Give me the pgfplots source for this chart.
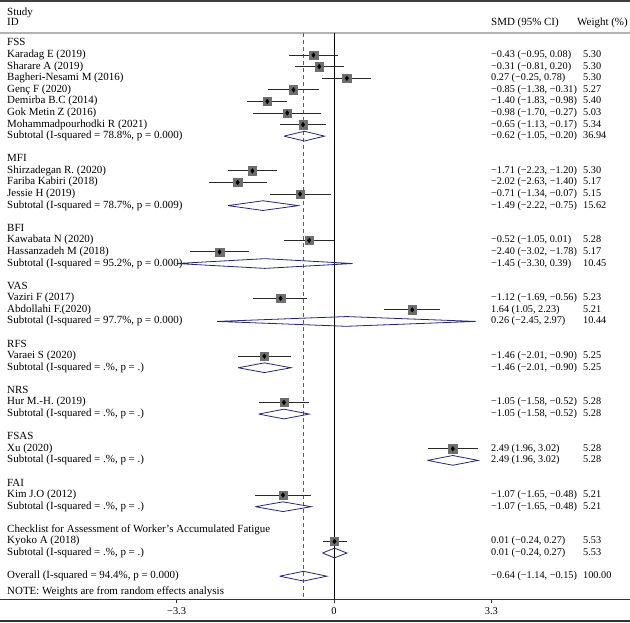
\documentclass[border=0pt]{standalone}
\usepackage{fontspec}
\setmainfont{Liberation Serif}
\usepackage{pgfplots}
\pgfplotsset{compat=1.18}
\usepackage{pgfplotstable}

\definecolor{cigray}{RGB}{40,40,40}
\definecolor{boxgray}{RGB}{110,110,110}
\definecolor{dianavy}{RGB}{35,40,110}
\definecolor{refred}{RGB}{165,60,75}

% rows are counted from the top; y = -row
\pgfplotstableread{
row est lo hi w
2 -0.43 -0.95 0.08 5.30
3 -0.31 -0.81 0.20 5.30
4 0.27 -0.25 0.78 5.30
5 -0.85 -1.38 -0.31 5.27
6 -1.40 -1.83 -0.98 5.40
7 -0.98 -1.70 -0.27 5.03
8 -0.65 -1.13 -0.17 5.34
12 -1.71 -2.23 -1.20 5.30
13 -2.02 -2.63 -1.40 5.17
14 -0.71 -1.34 -0.07 5.15
18 -0.52 -1.05 0.01 5.28
19 -2.40 -3.02 -1.78 5.17
23 -1.12 -1.69 -0.56 5.23
24 1.64 1.05 2.23 5.21
28 -1.46 -2.01 -0.90 5.25
32 -1.05 -1.58 -0.52 5.28
36 2.49 1.96 3.02 5.28
40 -1.07 -1.65 -0.48 5.21
44 0.01 -0.24 0.27 5.53
}\studies

\newcommand{\labfont}{\fontsize{11}{12}\selectfont}
\newcommand{\numfont}{\fontsize{10.3}{12}\selectfont}
\newcommand{\lab}[2]{\node[lbl,font=\labfont] at (axis cs:-6.855,-#1) {#2};}
\newcommand{\est}[3]{\node[lbl,font=\numfont] at (axis cs:3.291,-#1) {#2};
  \node[lbl,font=\numfont] at (axis cs:5.220,-#1) {#3};}

\begin{document}
\begin{tikzpicture}[
  lbl/.style={anchor=west, inner sep=0pt, text height=0.68em, text depth=0.18em}]
\begin{axis}[
  scale only axis, width=630bp, height=599bp,
  xmin=-7.002, xmax=6.205, ymin=-48.97, ymax=2.757,
  axis x line*=bottom, axis y line=none,
  xtick={-3.3,0,3.3}, xticklabels={−3.3,0,3.3},
  tick align=outside, major tick length=4bp,
  x axis line style={black!80, line width=0.8bp},
  xtick style={black!80, line width=0.6bp},
  xticklabel style={font=\fontsize{10.5}{11}\selectfont, yshift=-1bp},
  clip=false,
  dia/.style={dianavy, line width=0.8bp, mark=none},
]
% frame lines
\draw[black!75, line width=1.8bp] (axis cs:-7.002,2.67) -- (axis cs:6.205,2.67);
\draw[black!30, line width=1.6bp] (axis cs:-7.002,-0.093) -- (axis cs:6.205,-0.093);
\draw[black!80, line width=1.8bp] (axis cs:-7.002,-50.87) -- (axis cs:6.205,-50.87);

% null line and overall estimate
\addplot[black, line width=0.8bp, mark=none] coordinates {(0,-0.093) (0,-48.97)};
\addplot[refred, line width=0.8bp, dash pattern=on 4.5bp off 2.5bp, mark=none]
  coordinates {(-0.64,-0.093) (-0.64,-48.97)};

% header
\node[lbl,font=\labfont] at (axis cs:-6.855,1.66) {Study};
\node[lbl,font=\labfont] at (axis cs:-6.855,0.73) {ID};
\node[lbl,font=\labfont] at (axis cs:3.291,0.73) {SMD (95\% CI)};
\node[lbl,font=\labfont] at (axis cs:5.094,0.73) {Weight (\%)};

% left labels
\lab{1}{FSS}
\lab{2}{Karadag E (2019)}
\lab{3}{Sharare A (2019)}
\lab{4}{Bagheri-Nesami M (2016)}
\lab{5}{Genç F (2020)}
\lab{6}{Demirba B.C (2014)}
\lab{7}{Gok Metin Z (2016)}
\lab{8}{Mohammadpourhodki R (2021)}
\lab{9}{Subtotal (I-squared = 78.8\%, p = 0.000)}
\lab{11}{MFI}
\lab{12}{Shirzadegan R. (2020)}
\lab{13}{Fariba Kabiri (2018)}
\lab{14}{Jessie H (2019)}
\lab{15}{Subtotal (I-squared = 78.7\%, p = 0.009)}
\lab{17}{BFI}
\lab{18}{Kawabata N (2020)}
\lab{19}{Hassanzadeh M (2018)}
\lab{20}{Subtotal (I-squared = 95.2\%, p = 0.000)}
\lab{22}{VAS}
\lab{23}{Vaziri F (2017)}
\lab{24}{Abdollahi F.(2020)}
\lab{25}{Subtotal (I-squared = 97.7\%, p = 0.000)}
\lab{27}{RFS}
\lab{28}{Varaei S (2020)}
\lab{29}{Subtotal (I-squared = .\%, p = .)}
\lab{31}{NRS}
\lab{32}{Hur M.-H. (2019)}
\lab{33}{Subtotal (I-squared = .\%, p = .)}
\lab{35}{FSAS}
\lab{36}{Xu (2020)}
\lab{37}{Subtotal (I-squared = .\%, p = .)}
\lab{39}{FAI}
\lab{40}{Kim J.O (2012)}
\lab{41}{Subtotal (I-squared = .\%, p = .)}
\lab{43}{Checklist for Assessment of Worker’s Accumulated Fatigue}
\lab{44}{Kyoko A (2018)}
\lab{45}{Subtotal (I-squared = .\%, p = .)}
\lab{47}{Overall (I-squared = 94.4\%, p = 0.000)}
\lab{48.37}{NOTE: Weights are from random effects analysis}

% estimate and weight columns
\est{2}{−0.43 (−0.95, 0.08)}{5.30}
\est{3}{−0.31 (−0.81, 0.20)}{5.30}
\est{4}{0.27 (−0.25, 0.78)}{5.30}
\est{5}{−0.85 (−1.38, −0.31)}{5.27}
\est{6}{−1.40 (−1.83, −0.98)}{5.40}
\est{7}{−0.98 (−1.70, −0.27)}{5.03}
\est{8}{−0.65 (−1.13, −0.17)}{5.34}
\est{9}{−0.62 (−1.05, −0.20)}{36.94}
\est{12}{−1.71 (−2.23, −1.20)}{5.30}
\est{13}{−2.02 (−2.63, −1.40)}{5.17}
\est{14}{−0.71 (−1.34, −0.07)}{5.15}
\est{15}{−1.49 (−2.22, −0.75)}{15.62}
\est{18}{−0.52 (−1.05, 0.01)}{5.28}
\est{19}{−2.40 (−3.02, −1.78)}{5.17}
\est{20}{−1.45 (−3.30, 0.39)}{10.45}
\est{23}{−1.12 (−1.69, −0.56)}{5.23}
\est{24}{1.64 (1.05, 2.23)}{5.21}
\est{25}{0.26 (−2.45, 2.97)}{10.44}
\est{28}{−1.46 (−2.01, −0.90)}{5.25}
\est{29}{−1.46 (−2.01, −0.90)}{5.25}
\est{32}{−1.05 (−1.58, −0.52)}{5.28}
\est{33}{−1.05 (−1.58, −0.52)}{5.28}
\est{36}{2.49 (1.96, 3.02)}{5.28}
\est{37}{2.49 (1.96, 3.02)}{5.28}
\est{40}{−1.07 (−1.65, −0.48)}{5.21}
\est{41}{−1.07 (−1.65, −0.48)}{5.21}
\est{44}{0.01 (−0.24, 0.27)}{5.53}
\est{45}{0.01 (−0.24, 0.27)}{5.53}
\est{47}{−0.64 (−1.14, −0.15)}{100.00}

% confidence intervals of the studies
\addplot[only marks, mark=none,
  error bars/.cd, x dir=both, x explicit, error mark=none,
  error bar style={cigray, line width=0.9bp}]
  table[x=est, y expr=-\thisrow{row},
        x error plus expr=\thisrow{hi}-\thisrow{est},
        x error minus expr=\thisrow{est}-\thisrow{lo}] {\studies};
% weight boxes and point estimates
\addplot[only marks, mark=square*, mark size=4.2bp,
  mark options={fill=boxgray, draw=boxgray}]
  table[x=est, y expr=-\thisrow{row}] {\studies};
\addplot[only marks, mark=diamond*, mark size=2.3bp, mark options={fill=black, draw=black}]
  table[x=est, y expr=-\thisrow{row}] {\studies};

% subtotal and overall diamonds
\addplot[dia] coordinates {(-1.05,-9) (-0.62,-8.58) (-0.20,-9) (-0.62,-9.42) (-1.05,-9)};
\addplot[dia] coordinates {(-2.22,-15) (-1.49,-14.58) (-0.75,-15) (-1.49,-15.42) (-2.22,-15)};
\addplot[dia] coordinates {(-3.30,-20) (-1.45,-19.58) (0.39,-20) (-1.45,-20.42) (-3.30,-20)};
\addplot[dia] coordinates {(-2.45,-25) (0.26,-24.58) (2.97,-25) (0.26,-25.42) (-2.45,-25)};
\addplot[dia] coordinates {(-2.01,-29) (-1.46,-28.58) (-0.90,-29) (-1.46,-29.42) (-2.01,-29)};
\addplot[dia] coordinates {(-1.58,-33) (-1.05,-32.58) (-0.52,-33) (-1.05,-33.42) (-1.58,-33)};
\addplot[dia] coordinates {(1.96,-37) (2.49,-36.58) (3.02,-37) (2.49,-37.42) (1.96,-37)};
\addplot[dia] coordinates {(-1.65,-41) (-1.07,-40.58) (-0.48,-41) (-1.07,-41.42) (-1.65,-41)};
\addplot[dia] coordinates {(-0.24,-45) (0.01,-44.58) (0.27,-45) (0.01,-45.42) (-0.24,-45)};
\addplot[dia] coordinates {(-1.14,-47) (-0.64,-46.58) (-0.15,-47) (-0.64,-47.42) (-1.14,-47)};

\coordinate (sw) at (axis cs:-7.002,-50.96);
\coordinate (ne) at (axis cs:6.205,2.757);
\end{axis}
\pgfresetboundingbox
\useasboundingbox (sw) rectangle (ne);
\end{tikzpicture}
\end{document}
